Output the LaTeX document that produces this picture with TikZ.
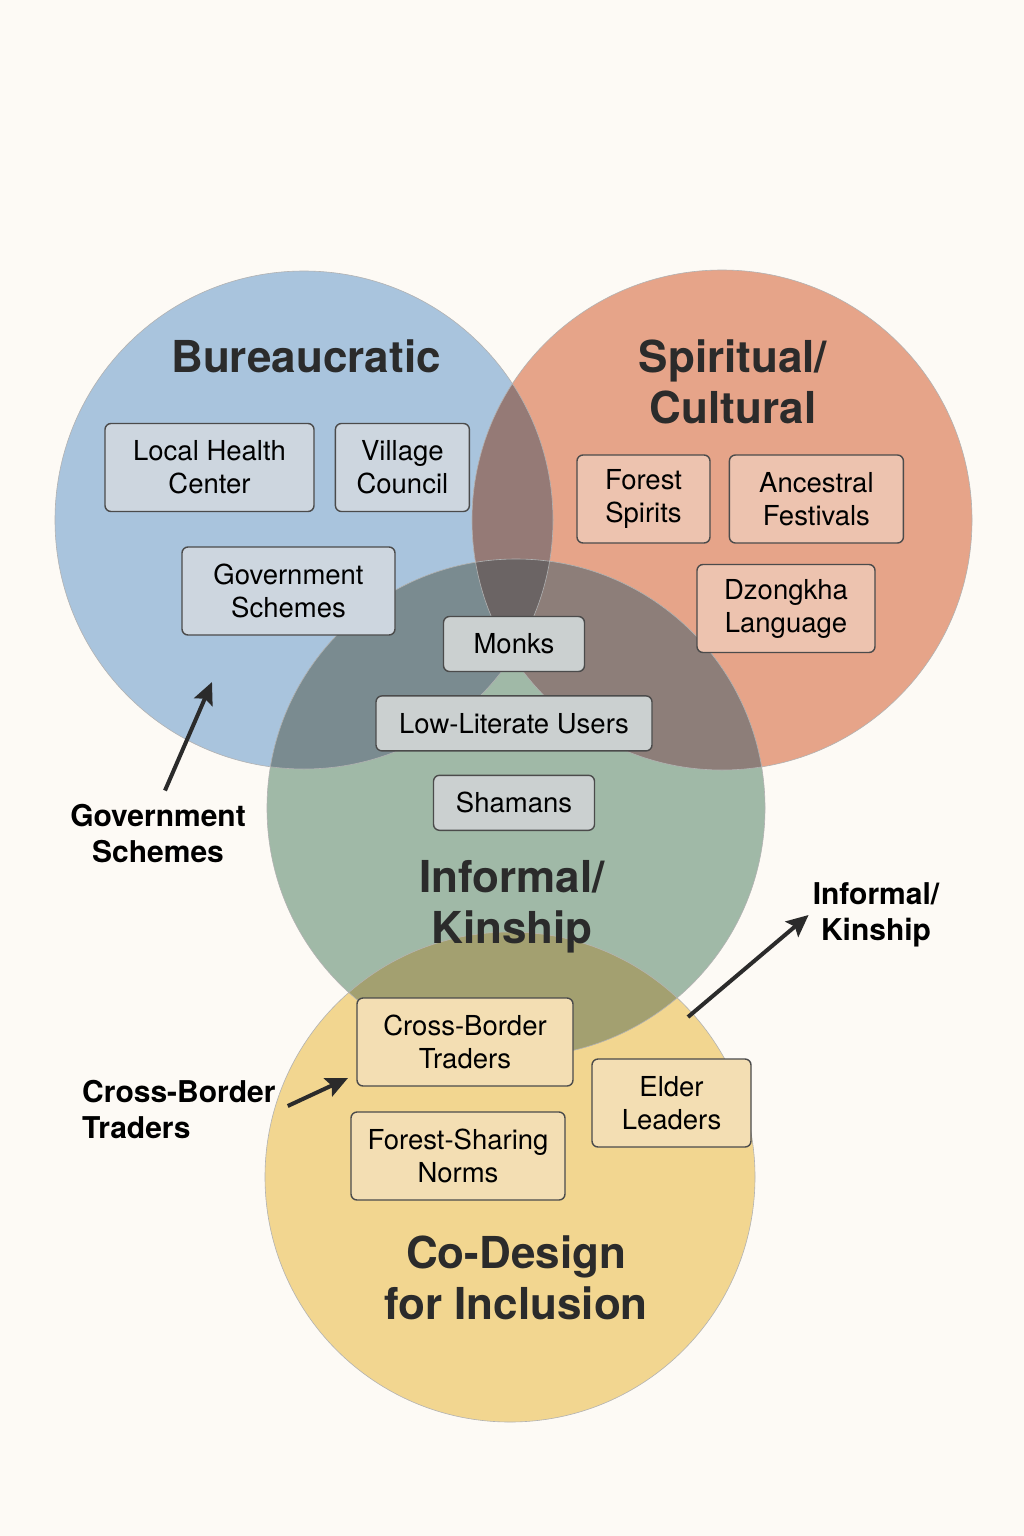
\documentclass[tikz,border=0pt]{standalone}
\usepackage{fontspec}
\setmainfont{TeX Gyre Heros}
\usepackage{xcolor}
\usetikzlibrary{arrows.meta, positioning}

\definecolor{bgc}{HTML}{FDFAF5}
\definecolor{bluec}{HTML}{A9C4DD}
\definecolor{redc}{HTML}{E6A489}
\definecolor{greenc}{HTML}{A0B9A7}
\definecolor{yellowc}{HTML}{F2D690}
\definecolor{brc}{HTML}{957A76}
\definecolor{bgrc}{HTML}{7A8B90}
\definecolor{rgc}{HTML}{8D7E79}
\definecolor{brgc}{HTML}{6B6464}
\definecolor{gyc}{HTML}{A3A070}
\definecolor{inkc}{HTML}{2B2B2B}
\definecolor{bluebox}{HTML}{CDD6DF}
\definecolor{redbox}{HTML}{EDC3AF}
\definecolor{midbox}{HTML}{CBD0D0}
\definecolor{yellowbox}{HTML}{F3DEB3}

\newcommand{\blueset}{(304,520) circle (249pt)}
\newcommand{\redset}{(722,520) circle (250pt)}
\newcommand{\greenset}{(516,808) circle (249pt)}
\newcommand{\yellowset}{(510,1177) circle (245pt)}

\begin{document}
\begin{tikzpicture}[
			x=1pt, y=-1pt,
			title/.style={
				font=\fontsize{44}{51}\selectfont\bfseries,
				text=inkc,
				align=center
			},
			item/.style={
				draw=inkc!85,
				line width=1.4pt,
				rounded corners=6pt,
				align=center,
				inner sep=0pt,
				minimum height=88pt,
				font=\fontsize{27.5}{33}\selectfont
			},
			short/.style={minimum height=55pt},
			lbl/.style={font=\fontsize{30}{36}\selectfont\bfseries, inner sep=4pt},
			arr/.style={-{Stealth[length=22pt, width=20pt, inset=4pt]}, line width=4pt, draw=inkc}
			]
			
			\fill[bgc] (0,0) rectangle (1024,1536);
			\useasboundingbox (0,0) rectangle (1024,1536);
			
			% the four sets
			\fill[bluec] \blueset;
			\fill[redc] \redset;
			\fill[greenc] \greenset;
			\fill[yellowc] \yellowset;
			
			% overlaps
			\begin{scope}
				\clip \redset;
				\fill[rgc] \greenset;
			\end{scope}
			\begin{scope}
				\clip \greenset;
				\fill[gyc] \yellowset;
			\end{scope}
			\begin{scope}
				\clip \blueset;
				\fill[brc] \redset;
				\fill[bgrc] \greenset;
				\clip \redset;
				\fill[brgc] \greenset;
			\end{scope}
			
			\draw[black!30, line width=0.6pt] \blueset \redset \greenset \yellowset;
			
			\node[title] (bur) at (306,356) {Bureaucratic};
			\node[title] (spi) at (733,382) {Spiritual/\\Cultural};
			\node[title] (inf) at (512,907) {Informal/\\Kinship};
			\node[title] (cod) at (516,1278) {Co-Design\\for Inclusion};
			
			% items
			\node[item, fill=bluebox, minimum width=209pt] (lhc) at (209.5,467.5) {Local Health\\Center};
			\node[item, fill=bluebox, minimum width=134pt, right=20pt of lhc] (vc) {Village\\Council};
			\node[item, fill=bluebox, minimum width=213pt] (gs) at (288.5,591) {Government\\Schemes};
			
			\node[item, fill=redbox, minimum width=133pt] (fs) at (643.5,499) {Forest\\Spirits};
			\node[item, fill=redbox, minimum width=174pt, right=18pt of fs] (af) {Ancestral\\Festivals};
			\node[item, fill=redbox, minimum width=178pt] (dl) at (786,608.5) {Dzongkha\\Language};
			
			\node[item, short, fill=midbox, minimum width=141pt] (mo) at (514,644) {Monks};
			\node[item, short, fill=midbox, minimum width=276pt, below=23pt of mo] (llu) {Low-Literate Users};
			\node[item, short, fill=midbox, minimum width=161pt, below=23pt of llu] (sh) {Shamans};
			
			\node[item, fill=yellowbox, minimum width=216pt] (cbt) at (465,1042) {Cross-Border\\Traders};
			\node[item, fill=yellowbox, minimum width=214pt] (fsn) at (458,1156) {Forest-Sharing\\Norms};
			\node[item, fill=yellowbox, minimum width=159pt] (el) at (671.5,1103) {Elder\\Leaders};
			
			% call-outs
			\node[lbl, align=center] (govlbl) at (158,834) {Government\\Schemes};
			\node[lbl, align=left, anchor=west] (cblbl) at (78,1110) {Cross-Border\\Traders};
			\node[lbl, align=center] (inflbl) at (876,915) {Informal/\\Kinship};
			
			\coordinate (govtip) at (212,682);
			\coordinate (cbtip) at (348,1078);
			\coordinate (inftail) at (688,1017);
			
			\draw[arr] ([xshift=7pt,yshift=10pt]govlbl.north) -- (govtip);
			\draw[arr] ([xshift=8pt,yshift=4pt]cblbl.east) -- (cbtip);
			\draw[arr] (inftail) -- (inflbl.west);
			
		\end{tikzpicture}
\end{document}
